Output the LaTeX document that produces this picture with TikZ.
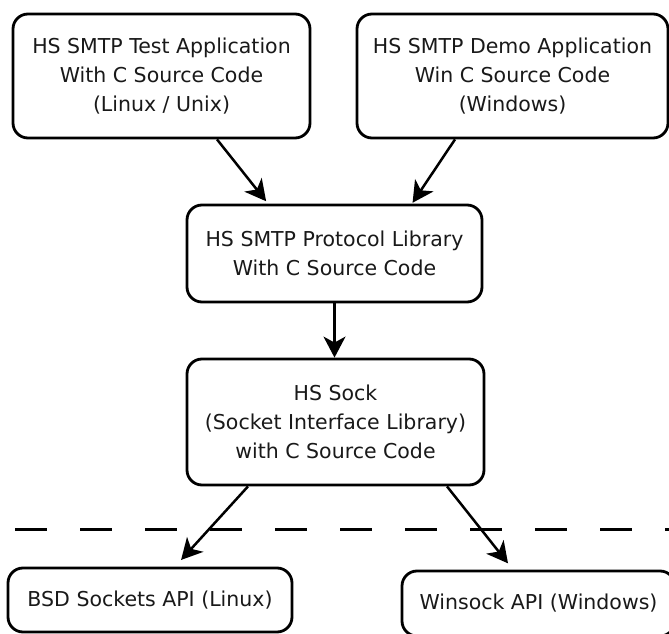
\documentclass[tikz,border=0pt]{standalone}
\usepackage{fontspec}
\setmainfont{DejaVu Sans}
\usetikzlibrary{arrows.meta}
\tikzset{
  box/.style={draw=black, line width=2.8pt, rounded corners=15pt, fill=white,
    align=center, inner sep=0pt, text=black!90,
    font=\fontsize{20.5}{29}\selectfont},
  arr/.style={draw=black, line width=2.5pt,
    -{Stealth[length=21pt,width=22pt,inset=6pt]}},
  divider/.style={draw=black, line width=3pt, dash pattern=on 32pt off 33pt}
}
\begin{document}
\begin{tikzpicture}[x=1pt,y=1pt]
\useasboundingbox (0,0) rectangle (669,633);
\node[box, minimum width=297pt, minimum height=124pt] (test) at (161.5,557)
  {HS SMTP Test Application\\With C Source Code\\(Linux / Unix)};
\node[box, minimum width=311pt, minimum height=124pt] (demo) at (512.5,557)
  {HS SMTP Demo Application\\Win C Source Code\\(Windows)};
\node[box, minimum width=295pt, minimum height=97pt] (lib) at (334.5,379.5)
  {HS SMTP Protocol Library\\With C Source Code};
\node[box, minimum width=297pt, minimum height=126pt] (sock) at (335.5,211)
  {HS Sock\\(Socket Interface Library)\\with C Source Code};
\node[box, minimum width=284pt, minimum height=64pt] (bsd) at (150,33)
  {BSD Sockets API (Linux)};
\node[box, minimum width=273pt, minimum height=65pt] (winsock) at (538.5,29.5)
  {Winsock API (Windows)};

\coordinate (dl) at (15,104);
\coordinate (dr) at (680,104);
\draw[divider] (dl) -- (dr);

\draw[arr, shorten >=3pt] ([xshift=55.5pt]test.south) -- ([xshift=-66.5pt]lib.north);
\draw[arr, shorten >=1pt] ([xshift=-57.5pt]demo.south) -- ([xshift=77.5pt]lib.north);
\draw[arr] (lib.south) -- (lib.south |- sock.north);
\draw[arr, shorten >=9pt] ([xshift=-87.5pt]sock.south) -- ([xshift=25pt]bsd.north);
\draw[arr, shorten >=8pt] ([xshift=111.5pt]sock.south) -- ([xshift=-25.5pt]winsock.north);
\end{tikzpicture}
\end{document}
